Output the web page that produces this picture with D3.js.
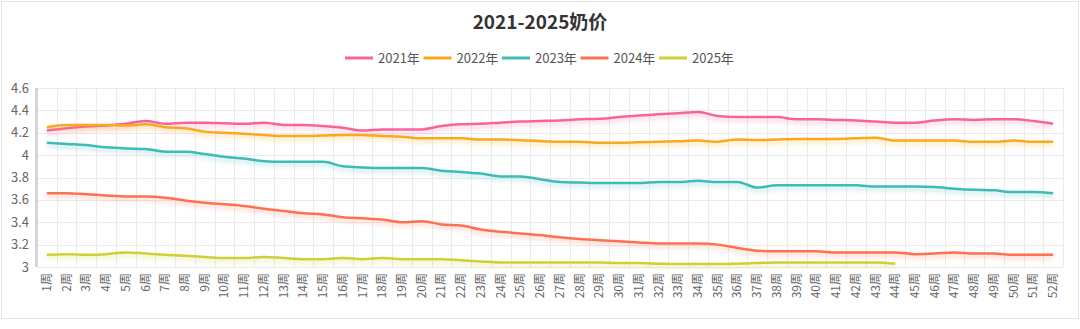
<!DOCTYPE html>
<html><head><meta charset="utf-8">
<script src="https://cdn.jsdelivr.net/npm/d3@7/dist/d3.min.js"></script>
<style>body{margin:0;background:#fff;}svg{display:block;font-family:"Noto Sans CJK SC","Noto Sans",sans-serif;}</style>
</head><body>
<script>
const weeks = d3.range(1,53).map(i => i + "周");
const yTicks = [3, 3.2, 3.4, 3.6, 3.8, 4, 4.2, 4.4, 4.6];
const seriesNames = ["2021年","2022年","2023年","2024年","2025年"];
const seriesColors = ["#f7649a","#fca81c","#3dbcb5","#ff7050","#cfcf38"];
const v2021 = [4.22,4.24,4.255,4.265,4.28,4.305,4.28,4.29,4.29,4.285,4.28,4.29,4.27,4.27,4.26,4.245,4.22,4.23,4.23,4.23,4.26,4.275,4.28,4.29,4.30,4.305,4.31,4.32,4.325,4.34,4.355,4.365,4.375,4.385,4.35,4.34,4.34,4.34,4.32,4.32,4.315,4.31,4.30,4.29,4.29,4.31,4.32,4.315,4.32,4.32,4.305,4.28];
const v2022 = [4.25,4.27,4.27,4.27,4.265,4.275,4.25,4.24,4.21,4.20,4.19,4.18,4.17,4.17,4.175,4.18,4.18,4.17,4.165,4.15,4.15,4.15,4.14,4.14,4.134,4.125,4.12,4.12,4.11,4.11,4.115,4.12,4.125,4.13,4.12,4.14,4.135,4.14,4.145,4.145,4.145,4.15,4.155,4.13,4.13,4.13,4.13,4.12,4.12,4.13,4.12,4.12];
const v2023 = [4.11,4.10,4.09,4.07,4.06,4.055,4.03,4.03,4.01,3.985,3.97,3.945,3.94,3.94,3.94,3.90,3.89,3.885,3.885,3.885,3.86,3.85,3.835,3.81,3.81,3.785,3.76,3.755,3.75,3.75,3.75,3.76,3.76,3.77,3.76,3.76,3.71,3.73,3.73,3.73,3.73,3.73,3.72,3.72,3.72,3.715,3.70,3.69,3.685,3.67,3.67,3.66];
const v2024 = [3.66,3.66,3.65,3.64,3.63,3.63,3.62,3.595,3.575,3.56,3.545,3.52,3.50,3.48,3.47,3.445,3.435,3.425,3.40,3.41,3.38,3.37,3.335,3.315,3.30,3.285,3.265,3.25,3.24,3.23,3.22,3.21,3.21,3.21,3.20,3.17,3.145,3.14,3.14,3.14,3.13,3.13,3.13,3.13,3.115,3.12,3.13,3.12,3.12,3.11,3.11,3.11];
const v2025 = [3.11,3.115,3.11,3.115,3.13,3.12,3.11,3.10,3.09,3.08,3.08,3.09,3.08,3.07,3.07,3.08,3.07,3.08,3.07,3.07,3.07,3.06,3.05,3.04,3.04,3.04,3.04,3.04,3.04,3.035,3.035,3.03,3.027,3.027,3.027,3.03,3.035,3.04,3.04,3.04,3.04,3.04,3.04,3.03];
const allValues = [v2021, v2022, v2023, v2024, v2025];

const W = 1080, H = 329;
const m = {left:37, right:1063, top:88, bottom:267};
const svg = d3.select("body").append("svg").attr("width", W).attr("height", H);

svg.append("rect").attr("x",1.5).attr("y",1.5).attr("width",1077).attr("height",317)
  .attr("fill","#fff").attr("stroke","#e3e3e3").attr("stroke-width",1);

const x = d3.scaleBand().domain(weeks).range([m.left, m.right]);
const y = d3.scaleLinear().domain([3, 4.6]).range([m.bottom, m.top]);

// grid
const g = svg.append("g");
g.selectAll(".hg").data(yTicks).join("line")
  .attr("x1", m.left).attr("x2", m.right)
  .attr("y1", d => Math.round(y(d))+0.5).attr("y2", d => Math.round(y(d))+0.5)
  .attr("stroke","#ebebeb");
const bounds = weeks.map(w => x(w)).concat([m.right]);
g.selectAll(".vg").data(bounds).join("line")
  .attr("x1", d => Math.round(d)+0.5).attr("x2", d => Math.round(d)+0.5)
  .attr("y1", m.top).attr("y2", m.bottom)
  .attr("stroke","#ebebeb");

// left axis bar
svg.append("rect").attr("x", m.left-2).attr("y", m.top).attr("width",3).attr("height", m.bottom-m.top)
  .attr("fill","#d6d6d6");

// y labels
svg.append("g").selectAll("text").data(yTicks).join("text")
  .attr("x", 29).attr("y", d => y(d)).attr("dy","0.35em")
  .attr("text-anchor","end").attr("font-size",13).attr("fill","#666")
  .text(d => d3.format("~g")(d));

// x labels
svg.append("g").selectAll("text").data(weeks).join("text")
  .attr("transform", d => `translate(${x(d)+x.bandwidth()/2+4},273) rotate(-90)`)
  .attr("text-anchor","end").attr("font-size",12).attr("fill","#666")
  .text(d => d);

// shadows
const defs = svg.append("defs");
seriesColors.forEach((c,i) => {
  defs.append("filter").attr("id","sh"+i).attr("x","-5%").attr("y","-50%").attr("width","110%").attr("height","200%")
    .append("feDropShadow").attr("dx",0).attr("dy",3).attr("stdDeviation",2)
    .attr("flood-color",c).attr("flood-opacity",0.35);
});

const line = d3.line()
  .x((d,i) => x(weeks[i]) + x.bandwidth()/2)
  .y(d => y(d))
  .curve(d3.curveMonotoneX);

allValues.forEach((vals,i) => {
  svg.append("path").datum(vals).attr("d", line)
    .attr("fill","none").attr("stroke", seriesColors[i]).attr("stroke-width",2.5)
    .attr("filter", `url(#sh${i})`);
});

// title
svg.append("text").attr("x", 540).attr("y", 29).attr("text-anchor","middle")
  .attr("font-size",19).attr("font-weight","bold").attr("fill","#333").text("2021-2025奶价");

// legend
const lg = svg.append("g");
seriesNames.forEach((n,i) => {
  const lx = 345 + i*78.5;
  lg.append("line").attr("x1",lx).attr("x2",lx+28).attr("y1",58).attr("y2",58)
    .attr("stroke",seriesColors[i]).attr("stroke-width",3);
  lg.append("text").attr("x",lx+33).attr("y",58).attr("dy","0.35em")
    .attr("font-size",13).attr("fill","#555").text(n);
});
</script>
</body></html>
